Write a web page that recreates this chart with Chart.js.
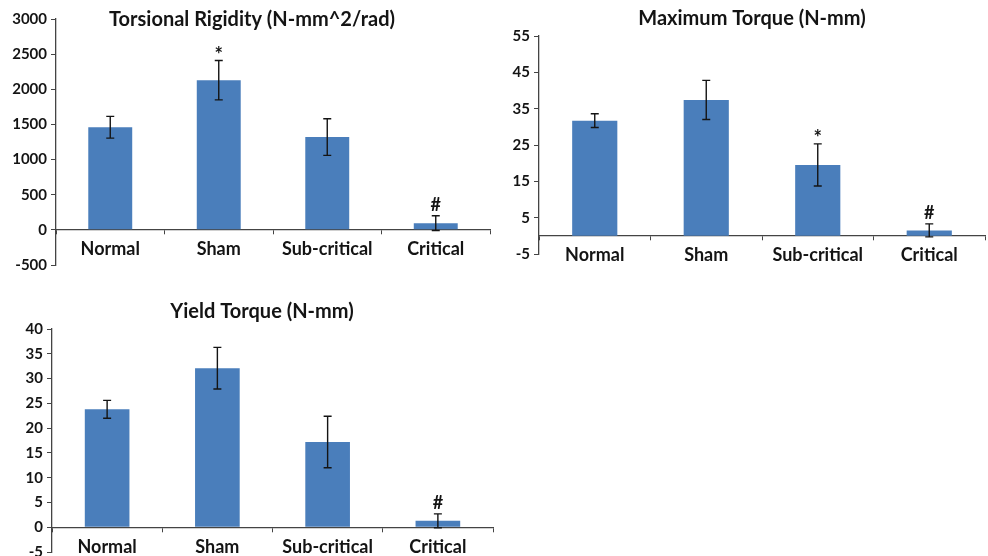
<!DOCTYPE html>
<html>
<head>
<meta charset="utf-8">
<script src="https://cdn.jsdelivr.net/npm/chart.js@4.4.1/dist/chart.umd.min.js"></script>
<style>
  html, body { margin: 0; padding: 0; background: #fff; }
  #wrap { position: relative; width: 988px; height: 556px; overflow: hidden; }
  .box { position: absolute; }
</style>
</head>
<body>
<div id="wrap">
  <div class="box" style="left:0;top:0;width:495px;height:285px"><canvas id="rigidity"></canvas></div>
  <div class="box" style="left:495px;top:0;width:493px;height:285px"><canvas id="maxTorque"></canvas></div>
  <div class="box" style="left:0;top:285px;width:495px;height:285px"><canvas id="yieldTorque"></canvas></div>
</div>
<script>
// data
const categories = ['Normal', 'Sham', 'Sub-critical', 'Critical'];

const rigidityMeans = [1460, 2130, 1320, 95];
const rigidityErrors = [155, 280, 260, 105];
const rigidityMarks = ['', '*', '', '#'];
const rigidityTicks = [-500, 0, 500, 1000, 1500, 2000, 2500, 3000];

const maxTorqueMeans = [31.7, 37.4, 19.5, 1.5];
const maxTorqueErrors = [1.9, 5.4, 5.8, 1.8];
const maxTorqueMarks = ['', '', '*', '#'];
const maxTorqueTicks = [-5, 5, 15, 25, 35, 45, 55];

const yieldTorqueMeans = [23.8, 32.1, 17.2, 1.3];
const yieldTorqueErrors = [1.8, 4.2, 5.2, 1.4];
const yieldTorqueMarks = ['', '', '', '#'];
const yieldTorqueTicks = [-5, 0, 5, 10, 15, 20, 25, 30, 35, 40];

const FONT = 'Lato, "Open Sans", sans-serif';
const AXIS = '#444';
const INK = '#141414';

// error bars + significance marks, drawn through the y scale
const errorBars = {
  id: 'errorBars',
  afterDatasetsDraw(chart, args, opts) {
    const ctx = chart.ctx;
    const y = chart.scales.y;
    const meta = chart.getDatasetMeta(0);
    ctx.save();
    ctx.strokeStyle = INK;
    ctx.lineWidth = 1.4;
    meta.data.forEach((bar, i) => {
      const v = opts.means[i], e = opts.errors[i];
      const top = y.getPixelForValue(v + e);
      const bot = y.getPixelForValue(v - e);
      ctx.beginPath();
      ctx.moveTo(bar.x, top); ctx.lineTo(bar.x, bot);
      ctx.moveTo(bar.x - 4, top); ctx.lineTo(bar.x + 4, top);
      ctx.moveTo(bar.x - 4, bot); ctx.lineTo(bar.x + 4, bot);
      ctx.stroke();
      const mark = opts.marks[i];
      if (mark) {
        ctx.fillStyle = INK;
        ctx.textAlign = 'center';
        ctx.textBaseline = 'bottom';
        // the asterisk glyph sits high in the em box, so it is nudged down
        ctx.font = 'bold ' + (mark === '*' ? 20 : 18) + 'px ' + FONT;
        ctx.fillText(mark, bar.x, mark === '*' ? top + 5 : top - 2);
      }
    });
    ctx.restore();
  }
};

// title drawn over the plot, like the original figure
const floatTitle = {
  id: 'floatTitle',
  afterDraw(chart, args, opts) {
    const ctx = chart.ctx;
    ctx.save();
    ctx.fillStyle = INK;
    ctx.font = 'bold 20px ' + FONT;
    ctx.textAlign = 'center';
    ctx.textBaseline = 'middle';
    ctx.fillText(opts.text, opts.x, opts.y);
    ctx.restore();
  }
};

function makeChart(id, title, means, errors, marks, ticks, pos) {
  return new Chart(document.getElementById(id), {
    type: 'bar',
    data: {
      labels: categories,
      datasets: [{
        data: means,
        backgroundColor: '#4a7ebb',
        borderWidth: 0,
        categoryPercentage: 1,
        barPercentage: 0.405
      }]
    },
    options: {
      responsive: true,
      maintainAspectRatio: false,
      animation: false,
      layout: { padding: pos.padding },
      plugins: {
        legend: { display: false },
        tooltip: { enabled: false },
        errorBars: { means: means, errors: errors, marks: marks },
        floatTitle: { text: title, x: pos.titleX, y: pos.titleY }
      },
      scales: {
        x: {
          position: { y: 0 },
          offset: true,
          grid: { offset: true, drawOnChartArea: false, drawTicks: true, tickLength: 4, color: AXIS },
          border: { display: true, color: AXIS, width: 1.3 },
          ticks: { color: INK, padding: 5, font: { family: FONT, size: 18, weight: 'bold' }, maxRotation: 0 }
        },
        y: {
          min: ticks[0],
          max: ticks[ticks.length - 1],
          afterBuildTicks: (scale) => { scale.ticks = ticks.map(v => ({ value: v })); },
          afterFit: (scale) => { scale.width = pos.axisWidth; },
          grid: { drawOnChartArea: false, drawTicks: true, tickLength: 5, color: AXIS },
          border: { display: true, color: AXIS, width: 1.3 },
          ticks: {
            color: INK, padding: 4,
            font: { family: FONT, size: 15, weight: 'bold' },
            callback: (v) => String(v)
          }
        }
      }
    },
    plugins: [errorBars, floatTitle]
  });
}

makeChart('rigidity', 'Torsional Rigidity (N-mm^2/rad)', rigidityMeans, rigidityErrors, rigidityMarks, rigidityTicks,
  { padding: { top: 19, bottom: 20, left: 0, right: 5 }, axisWidth: 56, titleX: 252, titleY: 20 });
makeChart('maxTorque', 'Maximum Torque (N-mm)', maxTorqueMeans, maxTorqueErrors, maxTorqueMarks, maxTorqueTicks,
  { padding: { top: 36, bottom: 31, left: 0, right: 3 }, axisWidth: 44, titleX: 257, titleY: 19 });
makeChart('yieldTorque', 'Yield Torque (N-mm)', yieldTorqueMeans, yieldTorqueErrors, yieldTorqueMarks, yieldTorqueTicks,
  { padding: { top: 44, bottom: 18, left: 0, right: 2 }, axisWidth: 52, titleX: 262, titleY: 27 });
</script>
</body>
</html>
